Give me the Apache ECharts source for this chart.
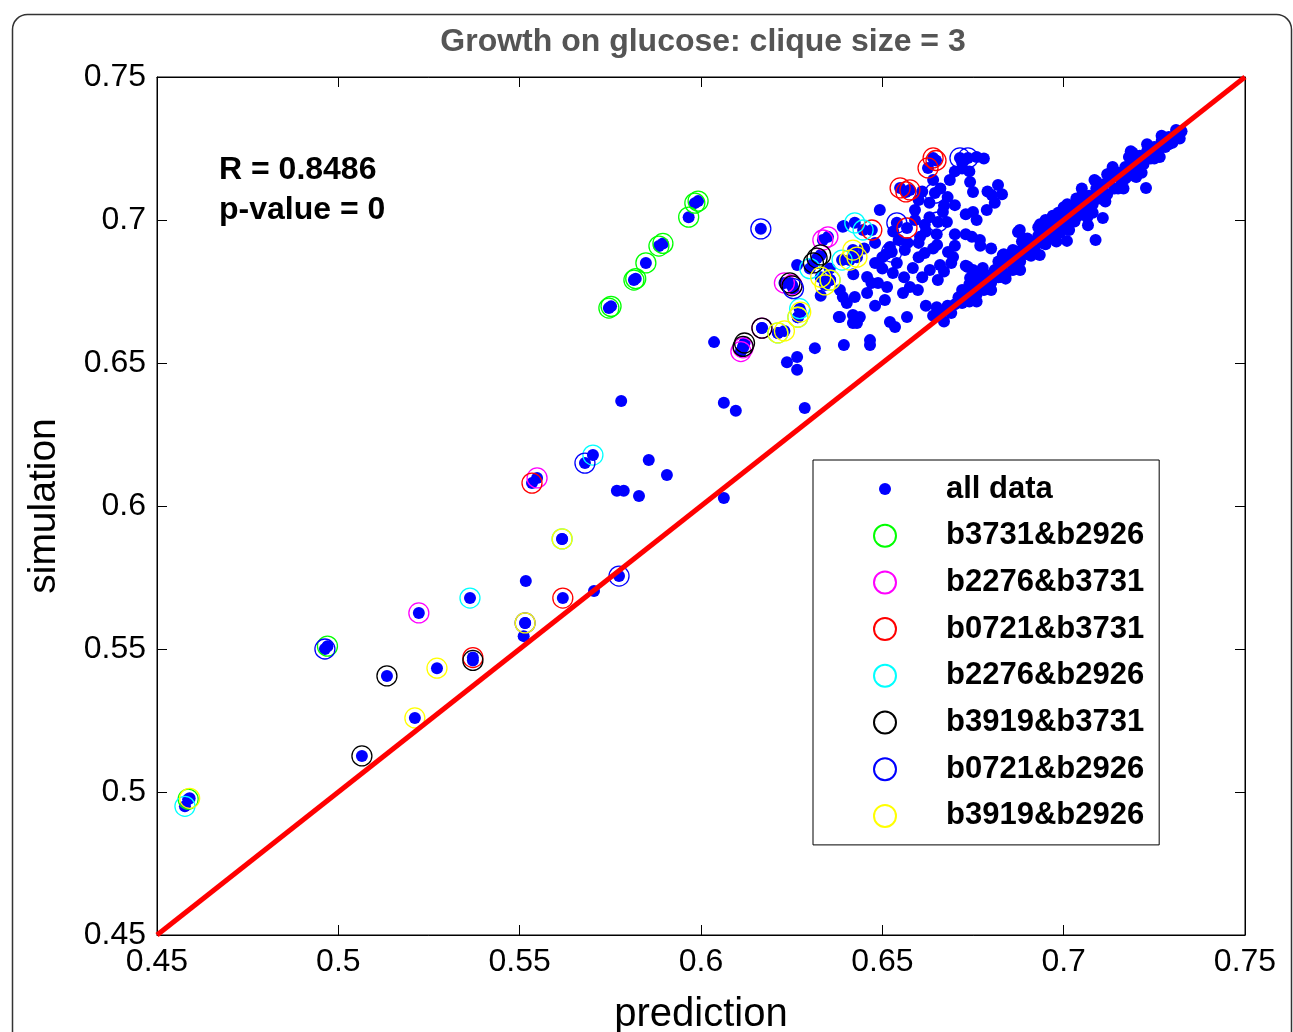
<!DOCTYPE html>
<html><head><meta charset="utf-8">
<script src="https://cdn.jsdelivr.net/npm/echarts@6/dist/echarts.min.js"></script>
<style>html,body{margin:0;padding:0;background:#fff}#c{width:1293px;height:1032px}</style>
</head><body><div id="c"></div>
<script>
const titleText = 'Growth on glucose: clique size = 3';
const xTicks = [0.45, 0.5, 0.55, 0.6, 0.65, 0.7, 0.75];
const yTicks = [0.45, 0.5, 0.55, 0.6, 0.65, 0.7, 0.75];
const seriesNames = ['all data','b3731&b2926','b2276&b3731','b0721&b3731','b2276&b2926','b3919&b3731','b0721&b2926','b3919&b2926'];

// plain blue points (no ring)
const lowerPts = [[0.5517,0.5738],[0.5705,0.5703],[0.5511,0.5545],[0.578,0.6367],[0.6063,0.6361],[0.6096,0.6333],
 [0.5856,0.6161],[0.5906,0.6108],[0.5768,0.6053],[0.5787,0.6053],[0.5829,0.6035],[0.6063,0.6028],[0.6036,0.6573],
 [0.6286,0.6343],[0.6237,0.6503],[0.6265,0.6521],[0.6265,0.6476],[0.6314,0.6552],[0.6394,0.6563],[0.638,0.6661],
 [0.6419,0.6668],[0.6419,0.664],[0.6391,0.6731],[0.6394,0.6979],[0.6265,0.6843]];
const clusterPts = [[0.6493,0.7035],[0.6667,0.7028],[0.6678,0.6993],[0.6750,0.7028],[0.6788,0.7035],[0.6391,0.6976],
 [0.6521,0.6906],[0.6604,0.6941],[0.6651,0.6913],[0.6617,0.6885],[0.6747,0.6941],[0.6769,0.6930],[0.6681,0.6888],
 [0.6695,0.6871],[0.6659,0.6843],[0.6631,0.6825],[0.6653,0.6790],[0.6736,0.6836],[0.6750,0.6825],[0.6742,0.6797],
 [0.6761,0.6801],[0.6480,0.6850],[0.6458,0.6801],[0.6488,0.6780],[0.6513,0.6766],[0.6576,0.6766],[0.6598,0.6755],
 [0.6557,0.6745],[0.6529,0.6815],[0.6584,0.6832],[0.6383,0.6755],[0.6402,0.6710],[0.6424,0.6731],[0.6458,0.6745],
 [0.6383,0.6661],[0.6438,0.6661],[0.6430,0.6640],[0.6521,0.6643],[0.6568,0.6661],[0.6535,0.6626],[0.6879,0.6965],
 [0.6832,0.6878],[0.6777,0.6832],[0.6824,0.6801],[0.6860,0.6825],[0.6742,0.6755],[0.6659,0.6675],[0.6742,0.7133],
 [0.6750,0.7098],[0.6819,0.7122],[0.6802,0.7087],[0.6590,0.7035],[0.6617,0.6983],[0.6686,0.7140],[0.6700,0.7052],
 [0.6562,0.6895],[0.6507,0.6720],[0.6466,0.6580],[0.6466,0.6563],[0.6600,0.7070],[0.6630,0.7010],[0.6720,0.7180],
 [0.6780,0.7215],[0.6760,0.7220],[0.6545,0.6930],[0.6500,0.6870],[0.6600,0.6870],[0.6700,0.6950],[0.6355,0.6830],
 [0.6330,0.6735],[0.6480,0.6700],[0.6620,0.6700],
 [0.6640,0.7140],[0.6660,0.7110],[0.6680,0.7080],[0.6630,0.7060],[0.6670,0.7050],[0.6720,0.7200],[0.6740,0.7170],
 [0.6730,0.7020],[0.6760,0.7000],[0.6790,0.7100],[0.6830,0.7090],[0.6810,0.7060],[0.6590,0.7000],[0.6620,0.6960],
 [0.6650,0.6950],[0.6600,0.6920],[0.6640,0.6900],[0.6480,0.6920],[0.6510,0.6880],[0.6540,0.6850],[0.6500,0.6830],
 [0.6560,0.6800],[0.6470,0.6780],[0.6730,0.6950],[0.6770,0.6910],[0.6800,0.6900],[0.6690,0.6850],[0.6670,0.6820],
 [0.6730,0.6840],[0.6790,0.6770],[0.6450,0.6900],[0.6530,0.6960],[0.6570,0.6920],[0.6420,0.6810],[0.6610,0.6800],
 [0.6700,0.6910],[0.6610,0.7100],[0.6700,0.7170]];
const bandPts = [[0.664,0.6665],[0.666,0.667],[0.668,0.670],[0.669,0.6675],[0.671,0.673],[0.672,0.671],[0.673,0.6745],
 [0.674,0.6715],[0.675,0.676],[0.676,0.674],[0.677,0.6785],[0.678,0.6755],[0.679,0.680],[0.680,0.678],[0.681,0.6825],
 [0.682,0.680],[0.683,0.684],[0.684,0.681],[0.685,0.6865],[0.686,0.684],[0.687,0.689],[0.688,0.6855],[0.689,0.6905],
 [0.690,0.688],[0.691,0.6925],[0.692,0.6895],[0.693,0.6945],[0.694,0.692],[0.695,0.6965],[0.696,0.6935],[0.697,0.699],
 [0.698,0.6955],[0.699,0.7005],[0.700,0.698],[0.701,0.7025],[0.702,0.6995],[0.703,0.7045],[0.704,0.7015],[0.705,0.707],
 [0.706,0.7035],[0.707,0.7085],[0.708,0.7055],[0.709,0.711],[0.710,0.7075],[0.711,0.7125],[0.712,0.709],[0.713,0.7145],
 [0.714,0.711],[0.715,0.7165],[0.716,0.713],[0.717,0.7185],[0.718,0.7155],[0.719,0.7205],[0.720,0.7175],[0.721,0.7225],
 [0.722,0.7195],[0.723,0.724],[0.724,0.7215],[0.725,0.7255],[0.726,0.7235],[0.727,0.7275],[0.728,0.7255],[0.729,0.729],
 [0.730,0.727],[0.731,0.730],[0.732,0.7285],[0.7325,0.731],[0.695,0.700],[0.705,0.711],[0.712,0.716],[0.718,0.722],
 [0.700,0.7045],[0.690,0.6935],[0.715,0.711],[0.720,0.715],[0.708,0.7025],[0.698,0.6925],[0.725,0.7215],[0.686,0.6895],
 [0.6874,0.6958],[0.7067,0.6982],[0.7108,0.7007],[0.7088,0.693],[0.7009,0.6927],[0.6934,0.6878],[0.7227,0.7112],
 [0.665,0.6695],[0.667,0.6645],[0.670,0.6705],[0.672,0.6755],[0.674,0.6775],[0.676,0.6715],[0.678,0.6815],[0.680,0.6755],
 [0.682,0.6855],[0.684,0.6795],[0.686,0.6875],[0.688,0.6825],[0.689,0.6935],[0.691,0.6875],[0.693,0.6975],[0.695,0.6915],
 [0.697,0.7015],[0.699,0.6955],[0.701,0.7055],[0.703,0.6995],[0.705,0.7085],[0.707,0.7035],[0.709,0.7135],[0.711,0.7075],
 [0.713,0.7165],[0.717,0.7145],[0.719,0.7235],[0.721,0.7185],[0.723,0.7265],[0.725,0.7225],[0.727,0.7295],[0.729,0.7265],
 [0.731,0.7315],[0.6985,0.7025],[0.7035,0.7075],[0.7085,0.7140],[0.7135,0.7185],[0.7185,0.7240],[0.6935,0.6985],
 [0.6885,0.6925],[0.6835,0.6880],[0.7015,0.6965],[0.7065,0.7010],[0.7115,0.7065],[0.7165,0.7110],[0.7215,0.7165],
 [0.7265,0.7220]];

const ringGreen = [[0.4586,0.4975],[0.4970,0.5510],[0.5746,0.6692],[0.5752,0.6698],[0.5815,0.6790],[0.5820,0.6795],
 [0.5848,0.6850],[0.5884,0.6909],[0.5895,0.6918],[0.5966,0.7010],[0.5983,0.7059],[0.5992,0.7066]];
const ringMagenta = [[0.5222,0.5626],[0.5548,0.6098],[0.6110,0.6540],[0.6116,0.6553],[0.6168,0.6622],[0.6230,0.6780],
 [0.6336,0.6930],[0.6350,0.6941],[0.6251,0.6773]];
const ringRed = [[0.5371,0.5470],[0.5534,0.6080],[0.5619,0.5678],[0.6640,0.7217],[0.6648,0.7208],[0.6626,0.7182],
 [0.6549,0.7112],[0.6576,0.7105],[0.6565,0.7098],[0.6568,0.6972],[0.6471,0.6965]];
const ringCyan = [[0.4577,0.4950],[0.5363,0.5678],[0.5617,0.5885],[0.5702,0.6178],[0.6212,0.6605],[0.6267,0.6660],
 [0.6272,0.6690],[0.6356,0.6790],[0.6424,0.6990],[0.6447,0.6965],[0.6389,0.6860],[0.6300,0.6830]];
const ringBlack = [[0.5065,0.5126],[0.5134,0.5406],[0.5371,0.5460],[0.6116,0.6558],[0.6120,0.6570],[0.6168,0.6622],
 [0.6245,0.6780],[0.6251,0.6770],[0.6320,0.6867],[0.6330,0.6878],[0.6310,0.6850]];
const ringBlue = [[0.4963,0.5500],[0.5515,0.5591],[0.5680,0.6150],[0.5774,0.5755],[0.6165,0.6969],[0.6736,0.7217],
 [0.6714,0.7217],[0.6645,0.7094],[0.6540,0.6990],[0.6526,0.6888],[0.6653,0.6993],[0.6255,0.6760]];
const ringYellow = [[0.4590,0.4978],[0.5211,0.5259],[0.5272,0.5433],[0.5515,0.5591],[0.5617,0.5885],[0.6212,0.6605],
 [0.6230,0.6612],[0.6267,0.6660],[0.6275,0.6678],[0.6356,0.6790],[0.6342,0.6773],[0.6419,0.6895],[0.6430,0.6870],
 [0.6410,0.6860],[0.6330,0.6800]];
const fitLine = [[0.45,0.45],[0.75,0.75]];
const statText = ['R = 0.8486', 'p-value = 0'];

const rings = [ringGreen, ringMagenta, ringRed, ringCyan, ringBlack, ringBlue, ringYellow];
const ringColors = ['#00ff00','#ff00ff','#ff0000','#00ffff','#000000','#0000ff','#ffff00'];
const allData = [].concat(lowerPts, clusterPts, bandPts, ...rings);

const FONT = '"Liberation Sans", Arial, sans-serif';
const chart = echarts.init(document.getElementById('c'), null, {renderer:'canvas'});

const series = [{
  name: seriesNames[0], type: 'scatter', data: allData, symbol: 'circle', symbolSize: 12,
  itemStyle: {color: '#0000ff', opacity: 1}, emphasis: {disabled: true}, z: 2, animation: false
}];
rings.forEach((r, i) => series.push({
  name: seriesNames[i+1], type: 'scatter', data: r, symbol: 'circle', symbolSize: 20,
  itemStyle: {color: 'rgba(0,0,0,0)', borderColor: ringColors[i], borderWidth: 1.3, opacity: 1},
  emphasis: {disabled: true}, z: 3, animation: false
}));
series.push({
  name: 'fit', type: 'line', data: fitLine, symbol: 'none', lineStyle: {color: '#ff0000', width: 5},
  z: 5, animation: false, silent: true
});

const axisCommon = {
  type: 'value', min: 0.45, max: 0.75, interval: 0.05,
  axisLine: {show: true, onZero: false, lineStyle: {color: '#000', width: 1}},
  axisTick: {show: true, inside: true, length: 10, lineStyle: {color: '#000'}},
  splitLine: {show: false}
};

chart.setOption({
  animation: false,
  backgroundColor: '#fff',
  title: {text: titleText, left: 698, textAlign: 'center', top: 21,
    textStyle: {fontFamily: FONT, fontSize: 32, fontWeight: 'bold', color: '#555'}},
  grid: {left: 157, right: 48, top: 77, bottom: 97, show: true, borderColor: '#000', borderWidth: 1,
    containLabel: false, outerBoundsMode: 'none'},
  xAxis: [
    Object.assign({}, axisCommon, {position: 'bottom', name: 'prediction', nameLocation: 'middle', nameGap: 60,
      nameTextStyle: {fontFamily: FONT, fontSize: 40, color: '#000'},
      axisLabel: {fontFamily: FONT, fontSize: 32, color: '#000', margin: 11}}),
    Object.assign({}, axisCommon, {position: 'top', axisLabel: {show: false}})
  ],
  yAxis: [
    Object.assign({}, axisCommon, {position: 'left', name: 'simulation', nameLocation: 'middle', nameGap: 93,
      nameRotate: 90, nameTextStyle: {fontFamily: FONT, fontSize: 39, color: '#000'},
      axisLabel: {fontFamily: FONT, fontSize: 32, color: '#000', margin: 11}}),
    Object.assign({}, axisCommon, {position: 'right', axisLabel: {show: false}})
  ],
  legend: {
    orient: 'vertical', left: 813, top: 460, width: 349,
    padding: [11, 15, 11, 60], itemGap: 10.7, itemWidth: 22, itemHeight: 22,
    backgroundColor: '#fff', borderColor: '#000', borderWidth: 1, borderRadius: 0,
    selectedMode: false,
    textStyle: {fontFamily: FONT, fontSize: 31, fontWeight: 'bold', color: '#000', lineHeight: 36, padding: [0,0,0,45]},
    data: [{name: seriesNames[0], icon: 'path://M0 0M22 22M11 5a6 6 0 1 1 0 12a6 6 0 1 1 0 -12z'}]
      .concat(seriesNames.slice(1).map(n => ({name: n})))
  },
  graphic: [
    {type: 'rect', left: 10, top: 12, z: -10, silent: true,
     shape: {width: 1279, height: 1040, r: 15}, style: {fill: 'none', stroke: '#333', lineWidth: 1.5}},
    {type: 'text', left: 219, top: 154, z: 10,
     style: {text: statText[0], fontFamily: FONT, fontSize: 32, fontWeight: 'bold', fill: '#000'}},
    {type: 'text', left: 219, top: 194, z: 10,
     style: {text: statText[1], fontFamily: FONT, fontSize: 32, fontWeight: 'bold', fill: '#000'}}
  ],
  series: series
});
</script></body></html>
